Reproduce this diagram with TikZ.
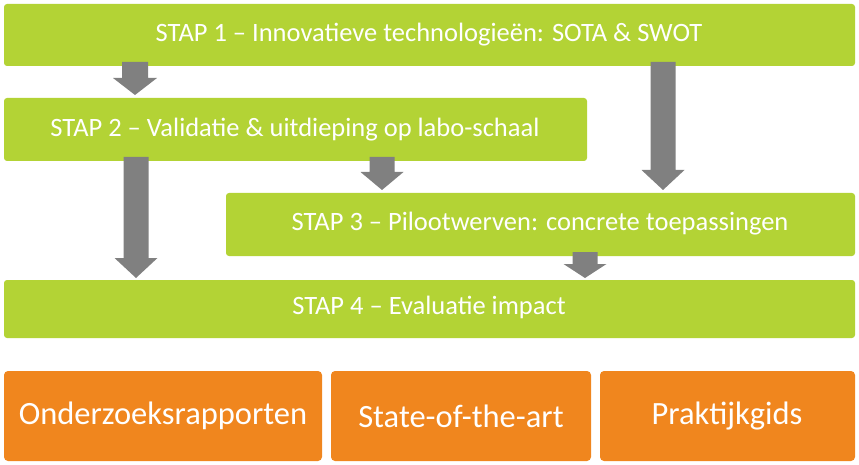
\documentclass[tikz,border=0pt]{standalone}
\usepackage{fontspec}
\setmainfont{Carlito}
\definecolor{grn}{HTML}{B3D335}
\definecolor{org}{HTML}{F0861E}
\definecolor{arr}{HTML}{808080}
\begin{document}
\begin{tikzpicture}[x=1pt,y=-1pt,
  bar/.style={fill=grn,draw=none,rounded corners=3pt},
  obox/.style={fill=org,draw=none,rounded corners=4pt},
  lbl/.style={text=white,font=\fontsize{26.5}{30}\selectfont},
  olbl/.style={text=white,font=\fontsize{32.5}{38}\selectfont}]
\useasboundingbox (0,0) rectangle (859,465);
\newcommand{\blockarrow}[5]{% cx, y0, y1, headstart, half shaft
  \fill[arr] (#1-#5,#2) -- (#1+#5,#2) -- (#1+#5,#4) -- (#1+#5+9,#4) -- (#1,#3) -- (#1-#5-9,#4) -- (#1-#5,#4) -- cycle;}
\fill[bar] (4,4) rectangle (855,66);
\node[lbl] (s1) at (429,35) {STAP 1 – Innovatieve technologieën: SOTA \& SWOT};
\fill[bar] (4,98) rectangle (587,161);
\node[lbl] (s2) at (295,130) {STAP 2 – Validatie \& uitdieping op labo-schaal};
\fill[bar] (226,193) rectangle (855,256);
\node[lbl] (s3) at (540,224) {STAP 3 – Pilootwerven: concrete toepassingen};
\fill[bar] (4,280) rectangle (855,338);
\node[lbl] (s4) at (429,307) {STAP 4 – Evaluatie impact};
\fill[obox] (4,371) rectangle (322,461);
\node[olbl] (o1) at (163,416) {Onderzoeksrapporten};
\fill[obox] (331,371) rectangle (591,461);
\node[olbl] (o2) at (461,416) {State-of-the-art};
\fill[obox] (600,371) rectangle (855,461);
\node[olbl] (o3) at (727,416) {Praktijkgids};
\blockarrow{135}{62}{95}{78}{13}
\blockarrow{663}{62}{190}{170}{12.5}
\blockarrow{382}{157}{190}{172}{12.5}
\blockarrow{136}{157}{278}{258}{12.5}
\blockarrow{585}{252}{278}{264}{12.5}
\end{tikzpicture}
\end{document}
